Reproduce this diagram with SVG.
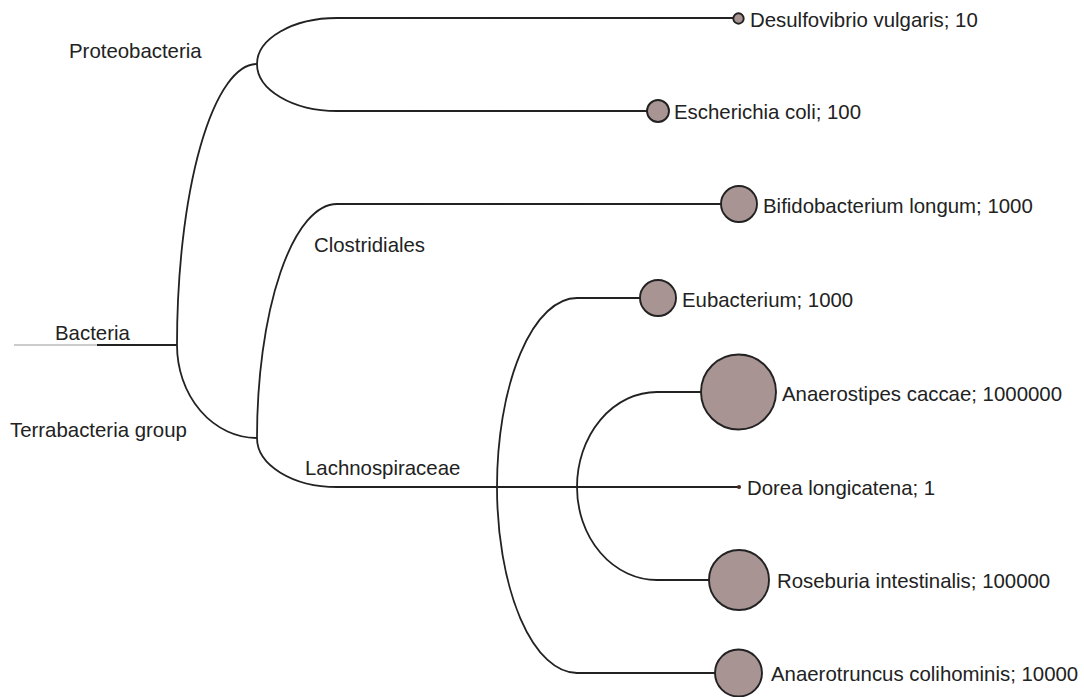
<svg xmlns="http://www.w3.org/2000/svg" width="1084" height="697" viewBox="0 0 1084 697">
<style>
.l{fill:none;stroke:#222222;stroke-width:1.8}
.root{fill:none;stroke:#cccccc;stroke-width:1.8}
.t{fill:#222222;stroke:none}
.n{fill:#a99494;stroke:#222222;stroke-width:1.9}
text{font-family:"Liberation Sans",Arial,sans-serif;font-size:20.4px;fill:#222222}
</style>
<rect width="1084" height="697" fill="#ffffff"/>
<g id="connectors">
<path class="root" d="M14,345 H97"/>
<path class="l" d="M97,345 H177"/>
<path class="l" d="M177,345 A80,281 0 0 1 257,64"/>
<path class="l" d="M177,345 A80,93 0 0 0 257,438"/>
<path class="l" d="M257,64 A80,46 0 0 1 337,18 H738"/>
<path class="l" d="M257,64 A80,47 0 0 0 337,111 H658"/>
<path class="l" d="M257,438 A80,234 0 0 1 337,204 H739"/>
<path class="l" d="M257,438 A80,49 0 0 0 337,487 H739"/>
<path class="l" d="M497,487 A80,189 0 0 1 577,298 H658"/>
<path class="l" d="M497,487 A80,186 0 0 0 577,673 H738"/>
<path class="l" d="M577,487 A80,95 0 0 1 657,392 H738"/>
<path class="l" d="M577,487 A80,93 0 0 0 657,580 H739"/>
<g id="ticks" class="t">
<circle cx="337" cy="18" r="1.1"/><circle cx="417" cy="18" r="1.1"/><circle cx="497" cy="18" r="1.1"/><circle cx="577" cy="18" r="1.1"/><circle cx="657" cy="18" r="1.1"/>
<circle cx="337" cy="111" r="1.1"/><circle cx="417" cy="111" r="1.1"/><circle cx="497" cy="111" r="1.1"/><circle cx="577" cy="111" r="1.1"/>
<circle cx="337" cy="204" r="1.1"/><circle cx="417" cy="204" r="1.1"/><circle cx="497" cy="204" r="1.1"/><circle cx="577" cy="204" r="1.1"/><circle cx="657" cy="204" r="1.1"/>
<circle cx="337" cy="487" r="1.1"/><circle cx="417" cy="487" r="1.1"/><circle cx="657" cy="487" r="1.1"/>
<circle cx="577" cy="298" r="1.1"/>
<circle cx="657" cy="392" r="1.1"/>
<circle cx="657" cy="580" r="1.1"/>
<circle cx="577" cy="673" r="1.1"/><circle cx="657" cy="673" r="1.1"/>
</g>
</g>
<g id="bacteria"><text x="55" y="340">Bacteria</text></g>
<g id="proteobacteria"><text x="69" y="58">Proteobacteria</text></g>
<g id="terrabacteria"><text x="10" y="437">Terrabacteria group</text></g>
<g id="clostridiales"><text x="314" y="252">Clostridiales</text></g>
<g id="lachnospiraceae"><text x="305" y="475">Lachnospiraceae</text></g>
<g id="desulfovibrio"><circle class="n" cx="738.5" cy="18.5" r="5.2"/><text x="750" y="27">Desulfovibrio vulgaris; 10</text></g>
<g id="escherichia"><circle class="n" cx="658" cy="111" r="11"/><text x="674" y="119">Escherichia coli; 100</text></g>
<g id="bifidobacterium"><circle class="n" cx="739" cy="204" r="18"/><text x="763" y="213">Bifidobacterium longum; 1000</text></g>
<g id="eubacterium"><circle class="n" cx="658" cy="298" r="18"/><text x="682" y="307">Eubacterium; 1000</text></g>
<g id="anaerostipes"><circle class="n" cx="738.5" cy="392" r="37.5"/><text x="782" y="401">Anaerostipes caccae; 1000000</text></g>
<g id="dorea"><circle cx="739" cy="487" r="2.1" fill="#4a2a22"/><text x="747" y="495">Dorea longicatena; 1</text></g>
<g id="roseburia"><circle class="n" cx="739" cy="580" r="30"/><text x="777" y="588">Roseburia intestinalis; 100000</text></g>
<g id="anaerotruncus"><circle class="n" cx="738.5" cy="673" r="23.5"/><text x="771" y="681">Anaerotruncus colihominis; 10000</text></g>
</svg>
